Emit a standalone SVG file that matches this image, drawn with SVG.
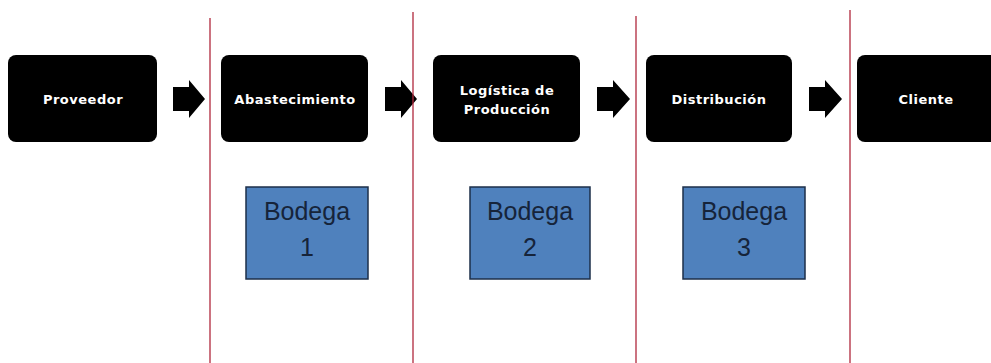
<svg xmlns="http://www.w3.org/2000/svg" width="991" height="363" viewBox="0 0 991 363">
<style>
.stage{fill:#000;}
.stxt{fill:#fff;font-family:"DejaVu Sans",sans-serif;font-weight:bold;font-size:13px;letter-spacing:0.5px;text-anchor:middle;}
.bod{fill:#4f81bd;stroke:#1d2f4a;stroke-width:1.5;}
.btxt{fill:#16243a;font-family:"Liberation Sans",sans-serif;font-size:25px;text-anchor:middle;}
.arrow{fill:#000;}
.sep{stroke:#b0283c;stroke-width:1.3;fill:none;}
</style>
<rect width="991" height="363" fill="#fff"/>
<g id="proveedor"><rect class="stage" x="8" y="55" width="149" height="87" rx="8"/><text class="stxt" x="83" y="104">Proveedor</text></g>
<g id="abastecimiento"><rect class="stage" x="221" y="55" width="147" height="87" rx="8"/><text class="stxt" x="295" y="104">Abastecimiento</text></g>
<g id="logistica"><rect class="stage" x="433" y="55" width="147" height="87" rx="8"/><text class="stxt" x="507" y="95">Logística de</text><text class="stxt" x="507" y="114">Producción</text></g>
<g id="distribucion"><rect class="stage" x="646" y="55" width="146" height="87" rx="8"/><text class="stxt" x="719" y="104">Distribución</text></g>
<g id="cliente"><rect class="stage" x="857" y="55" width="145" height="87" rx="8"/><text class="stxt" x="926" y="104">Cliente</text></g>
<g id="bodega1"><rect class="bod" x="246" y="187" width="122" height="92"/><text class="btxt" x="307" y="220">Bodega</text><text class="btxt" x="307" y="256">1</text></g>
<g id="bodega2"><rect class="bod" x="470" y="187" width="120" height="92"/><text class="btxt" x="530" y="220">Bodega</text><text class="btxt" x="530" y="256">2</text></g>
<g id="bodega3"><rect class="bod" x="683" y="187" width="122" height="92"/><text class="btxt" x="744" y="220">Bodega</text><text class="btxt" x="744" y="256">3</text></g>
<g id="connectors">
<polygon class="arrow" points="173,87 189,87 189,80 205,99 189,118 189,111 173,111"/>
<polygon class="arrow" points="385,87 401,87 401,80 417,99 401,118 401,111 385,111"/>
<polygon class="arrow" points="597,87 613,87 613,80 630,99 613,118 613,111 597,111"/>
<polygon class="arrow" points="809,87 825,87 825,80 842,99 825,118 825,111 809,111"/>
<line class="sep" x1="210" y1="18" x2="210" y2="363"/>
<line class="sep" x1="413" y1="12" x2="413" y2="363"/>
<line class="sep" x1="636" y1="16" x2="636" y2="363"/>
<line class="sep" x1="850" y1="10" x2="850" y2="363"/>
</g>
</svg>
